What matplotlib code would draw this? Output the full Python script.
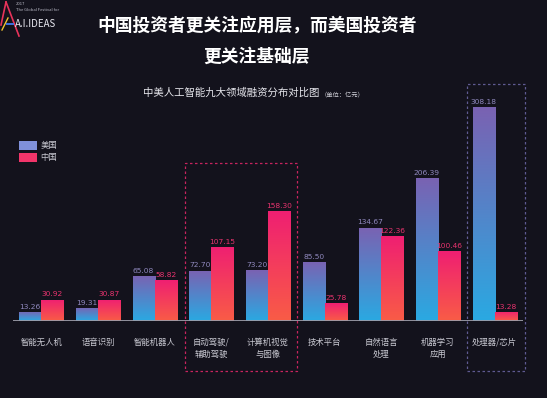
import numpy as np
import matplotlib.pyplot as plt
from matplotlib.patches import Rectangle, Patch
from matplotlib.lines import Line2D
from matplotlib.colors import to_rgb

plt.rcParams['font.family'] = ['Noto Sans CJK SC', 'DejaVu Sans']

# data (unit: 亿元)
categories = ["智能无人机", "语音识别", "智能机器人", "自动驾驶/\n辅助驾驶", "计算机视觉\n与图像",
              "技术平台", "自然语言\n处理", "机器学习\n应用", "处理器/芯片"]
us_values = [13.26, 19.31, 65.08, 72.70, 73.20, 85.50, 134.67, 206.39, 308.18]
cn_values = [30.92, 30.87, 58.82, 107.15, 158.30, 25.78, 122.36, 100.46, 13.28]
series_names = ["美国", "中国"]

bg = "#13121c"
W, H = 547, 398
fig = plt.figure(figsize=(W / 100, H / 100), dpi=100, facecolor=bg)

def px(x, y):
    # pixel (from top-left) -> figure fraction
    return x / W, 1 - y / H

ax = fig.add_axes([13 / W, 1 - 321 / H, 510 / W, 236 / H])
ax.set_facecolor(bg)
for s in ax.spines.values():
    s.set_visible(False)
ax.set_yticks([])
ax.tick_params(axis='x', length=0, pad=12, colors="#c9c9d2", labelsize=6)

x = np.arange(len(categories))
bw = 0.39


def gradient_fill(bars, top, bottom):
    c1 = np.array(to_rgb(top))
    c2 = np.array(to_rgb(bottom))
    t = np.linspace(0, 1, 128)[:, None]
    img = (c1 * (1 - t) + c2 * t)[:, None, :]
    for b in bars:
        x0, y0, w, h = b.get_x(), b.get_y(), b.get_width(), b.get_height()
        im = ax.imshow(img, extent=[x0, x0 + w, y0, y0 + h], aspect='auto', zorder=2,
                       origin='upper', interpolation='bicubic')
        im.set_clip_path(b)
        b.set_facecolor('none')


us_bars = ax.bar(x - bw / 2, us_values, bw, color="#6f86cf", linewidth=0, zorder=2)
cn_bars = ax.bar(x + bw / 2, cn_values, bw, color="#f2306a", linewidth=0, zorder=2)
gradient_fill(us_bars, "#7a62b2", "#2aa9e2")
gradient_fill(cn_bars, "#ef1f72", "#f95c46")
ax.set_xlim(-0.5, 8.5)
ax.set_ylim(0, 340)

ax.set_xticks(x)
ax.set_xticklabels(categories, linespacing=1.5)

for b, v in zip(us_bars, us_values):
    ax.text(b.get_x() + b.get_width() / 2, v + 3, f"{v:.2f}", ha='center', va='bottom',
            fontsize=5.4, color="#8f88bd", family='DejaVu Sans')
for b, v in zip(cn_bars, cn_values):
    ax.text(b.get_x() + b.get_width() / 2, v + 3, f"{v:.2f}", ha='center', va='bottom',
            fontsize=5.4, color="#e8336e", family='DejaVu Sans')

# baseline
ax.axhline(0, color="#9c9ca8", lw=1.3, zorder=3)

# dashed highlight boxes
ax.add_patch(Rectangle((2.53, -72), 1.98, 299.5, fill=False, ls=(0, (2, 2)), lw=0.9,
                       edgecolor="#c8245e", clip_on=False, zorder=1))
ax.add_patch(Rectangle((7.51, -72), 1.02, 413, fill=False, ls=(0, (2, 2)), lw=0.9,
                       edgecolor="#5f5a92", clip_on=False, zorder=1))

# legend
handles = [Patch(facecolor="#7f90da", edgecolor='none'), Patch(facecolor="#f2356a", edgecolor='none')]
fig.legend(handles, series_names, loc='upper left', bbox_to_anchor=px(11, 133), frameon=False,
           fontsize=6, labelcolor="#c9c9d2", handlelength=2.2, handleheight=1.3,
           handletextpad=0.4, labelspacing=0.35)

# titles
fig.text(*px(257, 25), "中国投资者更关注应用层，而美国投资者", ha='center', va='center',
         fontsize=12.8, fontweight='bold', color='white')
fig.text(*px(257, 57), "更关注基础层", ha='center', va='center',
         fontsize=12.8, fontweight='bold', color='white')
fig.text(*px(143, 93), "中美人工智能九大领域融资分布对比图", ha='left', va='center',
         fontsize=7.5, color="#e6e6ec")
fig.text(*px(321, 94), "（单位：亿元）", ha='left', va='center', fontsize=4.5, color="#d0d0d8")

# logo
fig.text(*px(16, 4), "2017", fontsize=3, color="#bbbbc8", va='center')
fig.text(*px(16, 10), "The Global Festival for", fontsize=3, color="#bbbbc8", va='center')
fig.text(*px(15, 24), "A.I.IDEAS", fontsize=7, color="#e8e8f0", va='center')
fig.add_artist(Line2D([1 / W, 6 / W], [1 - 25 / H, 1 - 2 / H], color="#e8335a", lw=1.2))
fig.add_artist(Line2D([6 / W, 19 / W], [1 - 2 / H, 1 - 36 / H], color="#e8335a", lw=1.2))
fig.add_artist(Line2D([2 / W, 8 / W], [1 - 30 / H, 1 - 18 / H], color="#f2c230", lw=1.0))
fig.add_artist(Line2D([7 / W, 13 / W], [1 - 24 / H, 1 - 24 / H], color="#3a6fe0", lw=1.4))

fig.savefig("out.png", dpi=100, facecolor=bg)
